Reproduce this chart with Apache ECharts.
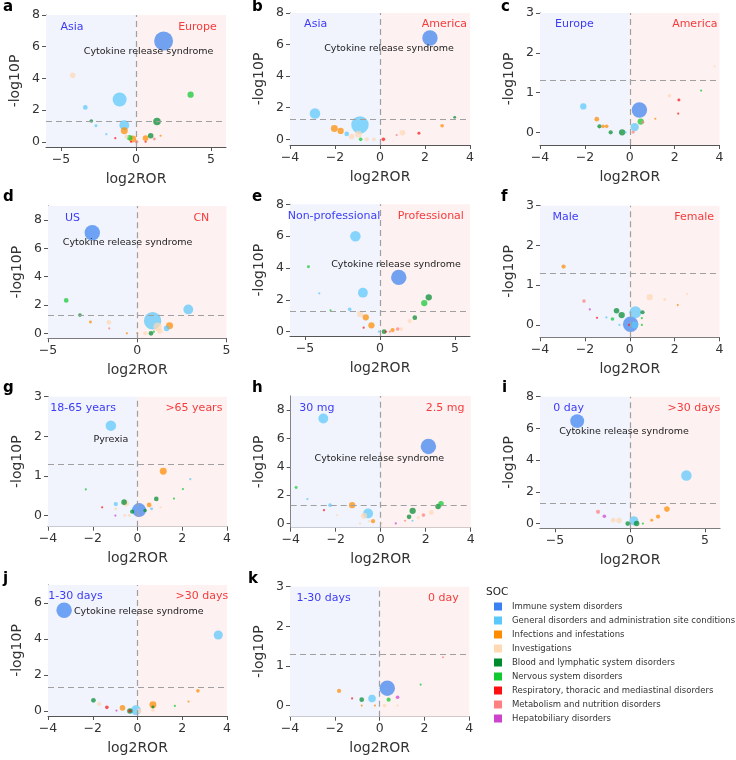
<!DOCTYPE html>
<html>
<head>
<meta charset="utf-8">
<script src="https://cdn.jsdelivr.net/npm/echarts@6/dist/echarts.min.js"></script>
<style>
  html, body { margin: 0; padding: 0; background: #fff; }
  #chart { width: 736px; height: 760px; }
</style>
</head>
<body>
<div id="chart"></div>
<script>
// SOC categories and their colours
const SOC_NAMES = [
  'Immune system disorders',
  'General disorders and administration site conditions',
  'Infections and infestations',
  'Investigations',
  'Blood and lymphatic system disorders',
  'Nervous system disorders',
  'Respiratory, thoracic and mediastinal disorders',
  'Metabolism and nutrition disorders',
  'Hepatobiliary disorders'
];
const SOC_COLORS = ['#3b82f0', '#5ac8fa', '#ff8c00', '#ffd8b4', '#008a2e', '#10c830', '#ff1010', '#ff8080', '#cc44cc'];

// each point: [log2ROR, -log10P, cases, socIndex]
const panelA = [
  [1.84, 6.36, 81, 0], [-4.22, 4.19, 7, 3], [-1.09, 2.67, 44, 1], [-3.38, 2.17, 5, 1],
  [3.64, 2.97, 9, 5], [-2.98, 1.31, 3, 4], [-2.67, 1.01, 2, 1], [1.40, 1.28, 13, 4],
  [-0.78, 1.05, 22, 1], [-0.78, 0.69, 11, 2], [-1.98, 0.48, 0.5, 1], [-1.38, 0.23, 1, 6],
  [-0.64, 0.32, 4, 3], [-0.42, 0.25, 7, 5], [-0.22, 0.17, 11, 2], [-0.33, 0.00, 1, 6],
  [0.04, 0.00, 3, 7], [0.64, 0.23, 7, 2], [0.98, 0.38, 7, 4], [1.22, 0.17, 2, 7],
  [1.64, 0.38, 1, 2], [0.64, 0.00, 1, 6]
];
const panelB = [
  [2.22, 6.42, 54, 0], [-2.89, 1.64, 25, 1], [-0.89, 0.91, 69, 1], [-2.03, 0.69, 11, 2],
  [-1.75, 0.53, 9, 2], [-1.48, 0.34, 5, 1], [-1.26, 0.17, 7, 3], [-0.96, 0.32, 11, 3],
  [-0.86, 0.00, 3, 5], [-0.59, 0.00, 4, 3], [-0.27, 0.00, 3, 3], [0.15, 0.00, 3, 6],
  [0.74, 0.27, 0.5, 7], [1.00, 0.42, 7, 3], [1.73, 0.38, 2, 6], [2.76, 0.86, 3, 2],
  [3.32, 1.39, 2, 4]
];
const panelC = [
  [0.43, 0.56, 54, 0], [-2.07, 0.65, 9, 1], [-1.47, 0.33, 5, 2], [-1.35, 0.15, 4, 4],
  [-1.19, 0.15, 3, 2], [-1.03, 0.15, 3, 2], [-0.85, 0.00, 4, 4], [-0.34, 0.00, 9, 4],
  [-0.18, 0.00, 1, 1], [0.15, 0.00, 2, 7], [0.22, 0.13, 16, 1], [0.49, 0.27, 9, 5],
  [0.58, 0.25, 2, 7], [1.14, 0.34, 0.5, 2], [1.77, 0.92, 3, 3], [2.19, 0.81, 2, 6],
  [2.16, 0.47, 1, 6], [3.18, 1.05, 1, 5], [3.78, 1.66, 1, 3]
];
const panelD = [
  [-2.52, 7.11, 54, 0], [-3.98, 2.33, 5, 5], [-3.21, 1.29, 3, 4], [-2.62, 0.80, 2, 2],
  [-1.59, 0.78, 5, 3], [-1.57, 0.35, 1, 7], [-0.58, 0.00, 1, 2], [0.00, 0.00, 1, 2],
  [0.45, 0.00, 4, 3], [0.86, 0.89, 69, 1], [1.14, 0.47, 16, 3], [1.27, 0.16, 7, 3],
  [1.64, 0.35, 7, 1], [1.81, 0.54, 11, 2], [0.77, 0.00, 5, 4], [0.93, 0.12, 1, 5],
  [2.86, 1.69, 22, 1]
];
const panelE = [
  [-1.64, 5.99, 25, 1], [-4.77, 4.08, 2, 5], [1.25, 3.41, 54, 0], [-1.14, 2.45, 22, 1],
  [-4.05, 2.41, 1, 1], [-3.30, 1.34, 1, 5], [-2.02, 1.40, 3, 1], [3.25, 2.16, 9, 4],
  [2.95, 1.80, 9, 5], [-1.32, 1.11, 9, 3], [-0.95, 0.90, 9, 2], [-0.57, 0.40, 9, 2],
  [-1.09, 0.25, 1, 6], [2.32, 0.88, 5, 4], [1.98, 0.67, 4, 3], [0.27, 0.00, 5, 4],
  [-0.07, 0.00, 1, 1], [0.84, 0.10, 4, 2], [1.18, 0.17, 3, 7], [1.41, 0.17, 3, 3],
  [0.66, 0.00, 1, 7], [0.39, 0.00, 1, 6]
];
const panelF = [
  [-2.95, 1.47, 4, 2], [-2.04, 0.60, 3, 7], [-1.78, 0.39, 1, 8], [-1.46, 0.18, 1, 6],
  [-1.04, 0.19, 1, 1], [-0.77, 0.15, 3, 5], [-0.59, 0.36, 7, 4], [-0.36, 0.25, 9, 4],
  [-0.46, 0.00, 1, 1], [0.04, 0.02, 54, 0], [0.25, 0.32, 32, 1], [0.22, 0.00, 11, 1],
  [-0.03, 0.00, 1, 6], [0.57, 0.32, 4, 4], [0.54, 0.17, 1, 5], [0.54, 0.00, 1, 5],
  [0.89, 0.70, 9, 3], [1.56, 0.64, 2, 3], [2.14, 0.50, 1, 2], [2.56, 0.78, 0.5, 3]
];
const panelG = [
  [-1.19, 2.27, 25, 1], [1.15, 1.12, 11, 2], [2.36, 0.92, 0.5, 1], [2.03, 0.67, 1, 5],
  [-2.31, 0.66, 1, 5], [1.63, 0.43, 1, 5], [0.84, 0.42, 5, 4], [0.52, 0.27, 5, 2],
  [1.03, 0.21, 0.5, 3], [-0.97, 0.29, 4, 1], [-0.60, 0.34, 7, 4], [-0.52, 0.31, 9, 3],
  [-1.58, 0.21, 1, 6], [-0.99, 0.00, 0.5, 8], [-0.57, 0.00, 2, 3], [-0.37, 0.00, 2, 3],
  [-0.24, 0.10, 4, 4], [0.07, 0.14, 44, 0], [0.34, 0.13, 3, 4], [0.63, 0.17, 2, 1],
  [0.02, 0.00, 1, 7], [-0.97, 0.17, 2, 3]
];
const panelH = [
  [-2.55, 7.41, 22, 1], [2.12, 5.44, 54, 0], [-3.76, 2.54, 2, 5], [-3.26, 1.72, 1, 1],
  [-2.25, 1.29, 3, 1], [-2.52, 0.94, 1, 6], [-1.94, 0.59, 1, 3], [-1.27, 1.29, 9, 2],
  [-0.56, 0.71, 22, 1], [-0.74, 0.54, 9, 3], [-0.34, 0.16, 4, 2], [-0.92, 0.00, 1, 3],
  [-0.52, 0.16, 1, 3], [0.04, 0.00, 0.5, 3], [0.67, 0.00, 0.5, 8], [1.08, 0.19, 1, 7],
  [1.41, 0.19, 1, 1], [1.26, 0.47, 5, 4], [1.42, 0.89, 9, 4], [1.67, 0.40, 2, 3],
  [1.90, 0.59, 3, 7], [2.25, 0.78, 5, 3], [2.55, 1.20, 7, 4], [2.68, 1.39, 7, 5]
];
const panelI = [
  [-3.52, 6.46, 44, 0], [3.76, 3.03, 25, 1], [2.46, 0.91, 7, 2], [1.87, 0.44, 4, 2],
  [1.45, 0.21, 2, 2], [0.86, 0.00, 1, 5], [0.44, 0.00, 7, 4], [0.26, 0.17, 19, 1],
  [-0.15, 0.00, 5, 4], [-0.73, 0.19, 7, 3], [-1.12, 0.21, 5, 3], [-1.71, 0.46, 3, 8],
  [-2.13, 0.74, 4, 7]
];
const panelJ = [
  [-3.28, 5.60, 54, 0], [3.61, 4.22, 19, 1], [2.70, 1.12, 3, 2], [2.28, 0.52, 1, 2],
  [1.67, 0.28, 0.5, 5], [0.69, 0.35, 11, 2], [0.69, 0.22, 2, 4], [0.69, 0.06, 3, 3],
  [-0.07, 0.04, 22, 1], [0.07, 0.00, 5, 3], [-0.34, 0.00, 7, 4], [-0.34, 0.00, 2, 6],
  [-0.67, 0.17, 7, 2], [-0.94, 0.02, 1, 8], [-1.37, 0.20, 3, 6], [-1.71, 0.39, 4, 3],
  [-1.97, 0.59, 5, 4]
];
const panelK = [
  [0.34, 0.44, 54, 0], [-0.34, 0.18, 13, 1], [-0.80, 0.15, 5, 4], [-1.81, 0.37, 4, 2],
  [-1.23, 0.18, 1, 6], [-0.80, 0.00, 1, 2], [-0.21, 0.00, 0.5, 2], [0.22, 0.00, 3, 3],
  [0.79, 0.00, 1, 3], [0.40, 0.15, 4, 5], [0.80, 0.21, 3, 8], [1.83, 0.53, 1, 5],
  [2.83, 1.22, 1, 7]
];

// tick labels
const X_TICKS_5 = [-5, 0, 5];
const X_TICKS_4 = [-4, -2, 0, 2, 4];
const Y_TICKS_8 = [0, 2, 4, 6, 8];
const Y_TICKS_6 = [0, 2, 4, 6];
const Y_TICKS_3 = [0, 1, 2, 3];

const P_THRESHOLD = 1.301; // -log10(0.05)
const CRS = 'Cytokine release syndrome';

// panel letter, data, group names, annotation
const panels = [
  { letter: 'a', points: panelA, groups: ['Asia', 'Europe'], note: CRS },
  { letter: 'b', points: panelB, groups: ['Asia', 'America'], note: CRS },
  { letter: 'c', points: panelC, groups: ['Europe', 'America'], note: null },
  { letter: 'd', points: panelD, groups: ['US', 'CN'], note: CRS },
  { letter: 'e', points: panelE, groups: ['Non-professional', 'Professional'], note: CRS },
  { letter: 'f', points: panelF, groups: ['Male', 'Female'], note: null },
  { letter: 'g', points: panelG, groups: ['18-65 years', '>65 years'], note: 'Pyrexia' },
  { letter: 'h', points: panelH, groups: ['30 mg', '2.5 mg'], note: CRS },
  { letter: 'i', points: panelI, groups: ['0 day', '>30 days'], note: CRS },
  { letter: 'j', points: panelJ, groups: ['1-30 days', '>30 days'], note: CRS },
  { letter: 'k', points: panelK, groups: ['1-30 days', '0 day'], note: null }
];

// layout: grid box, axis ranges, ticks, label anchors (data coords)
const layout = [
  { box: [46, 15, 180, 132],   x: [-6, 6], y: [-0.33, 8], xt: X_TICKS_5, yt: Y_TICKS_8, gx: [-4.27, 4.1], gy: 7.26, nt: [0.84, 5.68], lp: [3, 8] },
  { box: [290, 13, 180, 132],  x: [-4, 4], y: [-0.36, 8], xt: X_TICKS_4, yt: Y_TICKS_8, gx: [-2.86, 2.86], gy: 7.28, nt: [0.4, 5.75], lp: [252, 8] },
  { box: [540, 13, 179.5, 132], x: [-4, 4], y: [-0.32, 3], xt: X_TICKS_4, yt: Y_TICKS_3, gx: [-2.47, 2.9], gy: 2.72, nt: null, lp: [501, 8] },
  { box: [48, 206, 178.5, 132.3], x: [-5, 5], y: [-0.35, 9], xt: X_TICKS_5, yt: Y_TICKS_8, gx: [-3.63, 3.59], gy: 8.16, nt: [-0.54, 6.45], lp: [3, 198] },
  { box: [290, 204.3, 180, 131.7], x: [-6, 6], y: [-0.27, 8], xt: X_TICKS_5, yt: Y_TICKS_8, gx: [-3.07, 3.39], gy: 7.23, nt: [1.07, 4.21], lp: [252, 198] },
  { box: [540, 205.7, 179.5, 131.6], x: [-4, 4], y: [-0.31, 3], xt: X_TICKS_4, yt: Y_TICKS_3, gx: [-2.86, 2.87], gy: 2.72, nt: null, lp: [501, 198] },
  { box: [48, 396.7, 179, 130], x: [-4, 4], y: [-0.28, 3], xt: X_TICKS_4, yt: Y_TICKS_3, gx: [-2.43, 2.52], gy: 2.71, nt: [-1.19, 1.93], lp: [3, 389] },
  { box: [290.7, 396, 180, 131.7], x: [-4, 4], y: [-0.3, 9], xt: X_TICKS_4, yt: Y_TICKS_8, gx: [-2.84, 2.86], gy: 8.16, nt: [-0.06, 4.59], lp: [252, 389] },
  { box: [540, 396.7, 180, 131.6], x: [-6, 6], y: [-0.3, 8], xt: X_TICKS_5, yt: Y_TICKS_8, gx: [-4.09, 4.26], gy: 7.26, nt: [-0.4, 5.79], lp: [502, 389] },
  { box: [48, 585, 179, 131], x: [-4, 4], y: [-0.28, 7], xt: X_TICKS_4, yt: Y_TICKS_6, gx: [-2.77, 2.88], gy: 6.38, nt: [0.06, 5.54], lp: [3, 580] },
  { box: [290, 586.7, 179.3, 130], x: [-4, 4], y: [-0.28, 3], xt: X_TICKS_4, yt: Y_TICKS_3, gx: [-2.5, 2.84], gy: 2.72, nt: null, lp: [248, 580] }
];

const FONT = 'DejaVu Sans';
const AXIS_COLOR = '#555';
const fmtTick = v => (v < 0 ? '\u2212' + Math.abs(v) : String(v));

const grid = [], xAxis = [], yAxis = [], series = [], graphic = [];

panels.forEach((p, i) => {
  const L = layout[i];
  grid.push({ left: L.box[0], top: L.box[1], width: L.box[2], height: L.box[3] });

  xAxis.push({
    type: 'value', gridIndex: i, min: L.x[0], max: L.x[1],
    name: 'log2ROR', nameLocation: 'middle', nameGap: 25,
    nameTextStyle: { fontSize: 14, color: '#333', fontFamily: FONT },
    axisLine: { show: true, onZero: false, lineStyle: { color: AXIS_COLOR } },
    axisTick: { show: true, length: 4, customValues: L.xt, lineStyle: { color: AXIS_COLOR } },
    axisLabel: { customValues: L.xt, formatter: fmtTick, fontSize: 12.5, color: '#333', margin: 6, fontFamily: FONT },
    splitLine: { show: false }
  });
  yAxis.push({
    type: 'value', gridIndex: i, min: L.y[0], max: L.y[1],
    name: '-log10P', nameLocation: 'middle', nameGap: 24,
    nameTextStyle: { fontSize: 14, color: '#333', fontFamily: FONT },
    axisLine: { show: true, onZero: false, lineStyle: { color: AXIS_COLOR } },
    axisTick: { show: true, length: 4, customValues: L.yt, lineStyle: { color: AXIS_COLOR } },
    axisLabel: { customValues: L.yt, fontSize: 12.5, color: '#333', margin: 6, fontFamily: FONT },
    splitLine: { show: false }
  });

  // background halves and threshold lines
  series.push({
    type: 'scatter', name: 'bg' + i, xAxisIndex: i, yAxisIndex: i, data: [], silent: true, z: 1,
    markArea: {
      silent: true,
      data: [
        [{ xAxis: L.x[0], itemStyle: { color: '#f1f3fd' } }, { xAxis: 0 }],
        [{ xAxis: 0, itemStyle: { color: '#fdf1f1' } }, { xAxis: L.x[1] }]
      ]
    },
    markLine: {
      silent: true, symbol: 'none', label: { show: false },
      lineStyle: { type: [6, 4], color: '#a0a0a0', width: 1.2 },
      data: [{ xAxis: 0 }, { yAxis: P_THRESHOLD }]
    }
  });

  const texts = [
    { name: p.groups[0], coord: [L.gx[0], L.gy], label: { color: '#3c3cf5', fontSize: 11 } },
    { name: p.groups[1], coord: [L.gx[1], L.gy], label: { color: '#f53c3c', fontSize: 11 } }
  ];
  if (p.note) texts.push({ name: p.note, coord: L.nt, label: { color: '#222', fontSize: 9.5 } });

  const sorted = p.points.slice().sort((a, b) => b[2] - a[2]);
  series.push({
    type: 'scatter', name: 'pts' + i, xAxisIndex: i, yAxisIndex: i, z: 3,
    data: sorted,
    symbolSize: v => Math.max(2.2, 2.1 * Math.sqrt(v[2])),
    itemStyle: { color: prm => SOC_COLORS[prm.value[3]], opacity: 0.72 },
    markPoint: {
      silent: true, symbol: 'circle', symbolSize: 1,
      itemStyle: { color: 'rgba(0,0,0,0)' },
      label: { show: true, position: 'inside', formatter: prm => prm.name, fontFamily: FONT },
      data: texts
    }
  });

  graphic.push({
    type: 'text', left: L.lp[0], top: L.lp[1] - 8,
    style: { text: p.letter, font: 'bold 15px ' + FONT, fill: '#000' }
  });
});

// legend-only series
SOC_NAMES.forEach((n, k) => {
  series.push({ type: 'scatter', name: n, xAxisIndex: 0, yAxisIndex: 0, data: [], itemStyle: { color: SOC_COLORS[k] } });
});

graphic.push({
  type: 'text', left: 486, top: 587,
  style: { text: 'SOC', font: '10.5px ' + FONT, fill: '#222' }
});

const chart = echarts.init(document.getElementById('chart'));
chart.setOption({
  animation: false,
  backgroundColor: '#fff',
  textStyle: { fontFamily: FONT },
  grid, xAxis, yAxis, series, graphic,
  legend: {
    data: SOC_NAMES, orient: 'vertical', left: 494, top: 602, padding: 0,
    icon: 'rect', itemWidth: 8, itemHeight: 8, itemGap: 5, selectedMode: false,
    itemStyle: { opacity: 1 },
    textStyle: { fontSize: 8.5, color: '#333', padding: [0, 0, 0, 5], fontFamily: FONT }
  }
});
</script>
</body>
</html>
